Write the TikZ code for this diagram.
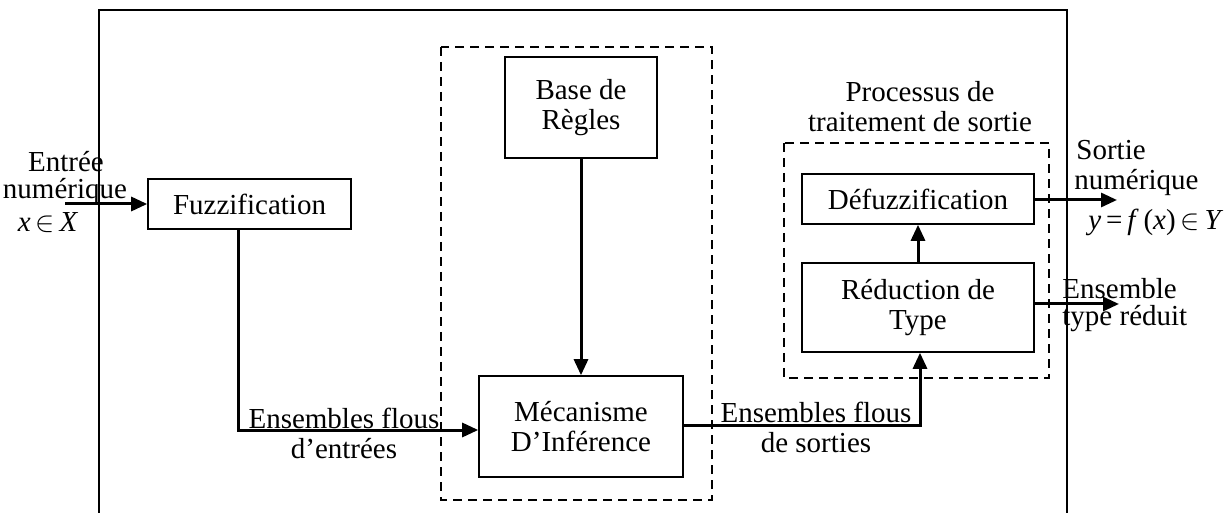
\documentclass[tikz,border=0pt]{standalone}
\usepackage{fontspec}
\setmainfont{Liberation Serif}
\usetikzlibrary{arrows.meta,positioning}
\begin{document}
\begin{tikzpicture}[x=0.5pt,y=-0.5pt,
  every node/.style={font=\fontsize{14.5}{15}\selectfont, inner sep=0pt},
  group/.style={draw, line width=0.8pt, dash pattern=on 4.5pt off 3pt},
  flow/.style={line width=1.5pt, -{Triangle[length=8pt,width=7pt]}},
  lbl/.style={align=center}]
  % canvas
  \fill[white] (0,0) rectangle (1227,513);
  \useasboundingbox (0,0) rectangle (1227,513);
  % outer frame (open at the bottom edge)
  \draw[line width=1.1pt] (99,513) -- (99,10) -- (1067,10) -- (1067,513);

  % dashed groups
  \draw[group] (441,47) rectangle (712,500);
  \draw[group] (784,143) rectangle (1049,378);

  % blocks
  \node[draw, line width=0.8pt, minimum width=76pt, minimum height=50.5pt, align=center] (base) at (581,107.5) {Base de\\Règles};
  \node[draw, line width=0.8pt, minimum width=102pt, minimum height=50.5pt, align=center] (infer) at (581,426.5) {Mécanisme\\D’Inférence};
  \node[draw, line width=0.8pt, minimum width=101.5pt, minimum height=25pt] (fuzz) at (249.5,204) {Fuzzification};
  \node[draw, line width=0.8pt, minimum width=116pt, minimum height=25pt] (defuzz) at (918,199) {Défuzzification};
  \node[draw, line width=0.8pt, minimum width=116pt, minimum height=44.5pt, align=center] (reduc) at (918,307.5) {Réduction de\\Type};

  % connector anchors
  \coordinate (in) at (65,204);
  \coordinate (outA) at (1117,200);
  \coordinate (outB) at (1119,304);
  \coordinate (fdrop) at (238,430);
  \coordinate (irise) at (920,425);

  % connectors
  \draw[flow] (in) -- (fuzz.west);
  \draw[flow] (fuzz.south -| fdrop) -- (fdrop) -- (infer.west |- fdrop);
  \draw[flow] (base.south) -- (infer.north);
  \draw[flow] (infer.east |- irise) -- (irise) -- (reduc.south -| irise);
  \draw[flow] (reduc.north) -- (defuzz.south);
  \draw[flow] (defuzz.east |- outA) -- (outA);
  \draw[flow] (reduc.east |- outB) -- (outB);

  % input labels
  \node (inl1) at (66,162) {Entrée};
  \node (inl2) at (65,192) {numérique};
  \node (inl3) at (48,223) {\textit{x}\,$\in$\,\textit{X}};

  % output labels
  \node[anchor=west] (outl1) at (1076,150) {Sortie};
  \node[anchor=west] (outl2) at (1074,183) {numérique};
  \node[anchor=west] (outl3) at (1088,222) {\textit{y}\,=\,\textit{f}\,(\textit{x})\,$\in$\,\textit{Y}};
  \node[anchor=west] (outl4) at (1062,289) {Ensemble};
  \node[anchor=west] (outl5) at (1062,319) {type réduit};

  % group title
  \node[lbl] (ptitle) at (920,107) {Processus de\\traitement de sortie};

  % edge labels
  \node[lbl] (fin) at (344,433) {Ensembles flous\\d’entrées};
  \node[lbl] (fout) at (816,427.5) {Ensembles flous\\de sorties};
\end{tikzpicture}
\end{document}
